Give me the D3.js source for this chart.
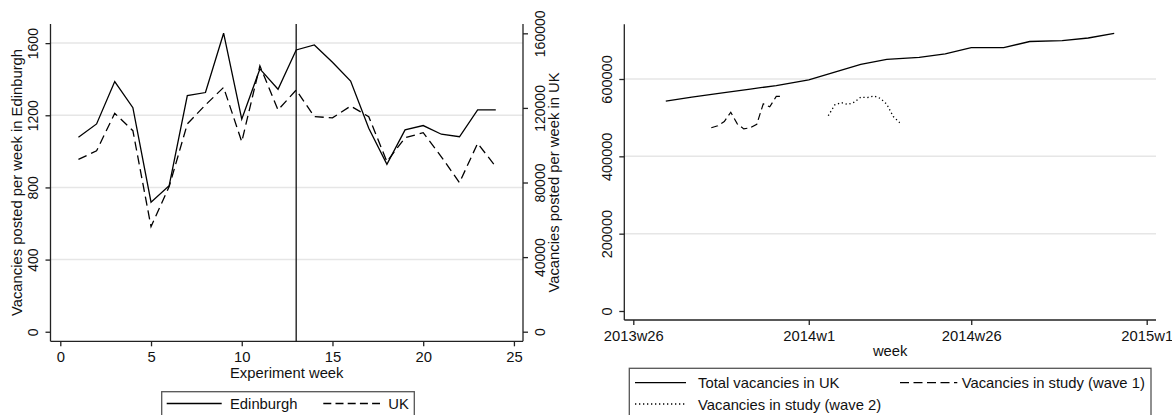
<!DOCTYPE html>
<html><head><meta charset="utf-8">
<script src="https://cdn.jsdelivr.net/npm/d3@7"></script>
<style>
body{margin:0;background:#fff;}
svg{display:block;font-family:"Liberation Sans",Arial,sans-serif;}
</style></head>
<body><svg id="c" width="1172" height="415"></svg>
<script>
// ---------- Left panel data ----------
const expWeeks = [1,2,3,4,5,6,7,8,9,10,11,12,13,14,15,16,17,18,19,20,21,22,23,24];
const edinburgh = [1078,1152,1387,1242,718,810,1309,1326,1655,1178,1457,1344,1562,1590,1494,1390,1128,928,1119,1143,1095,1081,1230,1230];
const ukWeekly = [92400,97000,117100,107800,56300,77800,111400,121600,131000,101900,142600,118900,129600,115300,114700,121000,115300,91200,104000,106700,93800,79900,101000,88500];
const leftXTicks = [0,5,10,15,20,25];
const leftYTicks = [0,400,800,1200,1600];
const rightYTicks = [0,40000,80000,120000,160000];
const treatmentWeek = 13;

// ---------- Right panel data ----------
const totalWeeks = ["2013w31","2013w35","2013w40","2013w44","2013w48","2014w1","2014w5","2014w9","2014w13","2014w18","2014w22","2014w26","2014w31","2014w35","2014w40","2014w44","2014w48"];
const totalVacancies = [543000,553000,565000,574000,583000,598000,618000,638000,651000,656000,665000,681000,681000,697000,699000,706000,718000];
const wave1Weeks = ["2013w38","2013w39","2013w40","2013w41","2013w42","2013w43","2013w44","2013w45","2013w46","2013w47","2013w48","2013w49"];
const wave1Vacancies = [474000,479000,490000,514000,484000,471000,474000,483000,536000,528000,555000,555000];
const wave2Weeks = ["2014w4","2014w5","2014w6","2014w7","2014w8","2014w9","2014w10","2014w11","2014w12","2014w13","2014w14","2014w15"];
const wave2Vacancies = [505000,533000,539000,534000,540000,553000,552000,556000,550000,535000,503000,487000];
const weekTicks = ["2013w26","2014w1","2014w26","2015w1"];
const rYTicks = [0,200000,400000,600000];

// Stata weekly index
const wk = s => { const [y,w] = s.split("w").map(Number); return (y-1960)*52 + (w-1); };

const svg = d3.select("#c");
const AX = "#222", GRID = "#e6e6e6";
const FT = 14.8;

function styleAxis(a){
  a.attr("font-family",null);
  a.selectAll("path,line").attr("stroke",AX).attr("stroke-width",1.3);
  a.selectAll("text").attr("fill","#111");
}

// ================= LEFT PANEL =================
const L = {x0:50.5, x1:523, y0:24, y1:341.3};
const lx = d3.scaleLinear().domain([-0.54,25.5]).range([L.x0,L.x1]);
const ly = d3.scaleLinear().domain([-53,1706]).range([L.y1,L.y0]);
const ry = d3.scaleLinear().domain([-5150,165000]).range([L.y1,L.y0]);

const gl = svg.append("g");
gl.selectAll("line.g").data(leftYTicks.filter(d=>d>0)).join("line")
  .attr("x1",L.x0).attr("x2",L.x1).attr("y1",d=>ly(d)).attr("y2",d=>ly(d))
  .attr("stroke",GRID).attr("stroke-width",1.5);

const axL = gl.append("g").attr("transform",`translate(${L.x0},0)`)
  .call(d3.axisLeft(ly).tickValues(leftYTicks).tickFormat(d3.format("d")).tickSize(5).tickSizeOuter(0));
axL.select(".domain").attr("d",`M0,${L.y0}V${L.y1}`);
axL.selectAll("text").attr("transform","rotate(-90,-13,0)")
  .attr("x",-13).attr("y",0).attr("dy",0).attr("text-anchor","middle").attr("font-size",14);
const axR = gl.append("g").attr("transform",`translate(${L.x1},0)`)
  .call(d3.axisRight(ry).tickValues(rightYTicks).tickFormat(d3.format("d")).tickSize(5).tickSizeOuter(0));
axR.select(".domain").attr("d",`M0,${L.y0}V${L.y1}`);
axR.selectAll("text").attr("transform","rotate(-90,21.5,0)")
  .attr("x",21.5).attr("y",0).attr("dy",0).attr("text-anchor","middle").attr("font-size",14);
const axB = gl.append("g").attr("transform",`translate(0,${L.y1})`)
  .call(d3.axisBottom(lx).tickValues(leftXTicks).tickSize(5).tickSizeOuter(0));
axB.select(".domain").attr("d",`M${L.x0},0H${L.x1}`);
axB.selectAll("text").attr("dy",0).attr("y",20.5).attr("font-size",FT);
[axL,axR,axB].forEach(styleAxis);

gl.append("line").attr("x1",lx(treatmentWeek)).attr("x2",lx(treatmentWeek))
  .attr("y1",L.y0).attr("y2",L.y1).attr("stroke","#111").attr("stroke-width",1.3);

gl.append("path").datum(expWeeks.map((w,i)=>[w,edinburgh[i]]))
  .attr("d",d3.line().x(d=>lx(d[0])).y(d=>ly(d[1])))
  .attr("fill","none").attr("stroke","#000").attr("stroke-width",1.3);
gl.append("path").datum(expWeeks.map((w,i)=>[w,ukWeekly[i]]))
  .attr("d",d3.line().x(d=>lx(d[0])).y(d=>ry(d[1])))
  .attr("fill","none").attr("stroke","#000").attr("stroke-width",1.3).attr("stroke-dasharray","9,5");

gl.append("text").attr("transform","translate(22,182.5) rotate(-90)").attr("text-anchor","middle")
  .attr("font-size",FT).attr("fill","#111").text("Vacancies posted per week in Edinburgh");
gl.append("text").attr("transform","translate(559,182.5) rotate(-90)").attr("text-anchor","middle")
  .attr("font-size",FT).attr("fill","#111").text("Vacancies posted per week in UK");
gl.append("text").attr("x",(L.x0+L.x1)/2).attr("y",377.5).attr("text-anchor","middle")
  .attr("font-size",FT).attr("fill","#111").text("Experiment week");

const lg = gl.append("g");
lg.append("rect").attr("x",161.7).attr("y",391.7).attr("width",252.6).attr("height",40)
  .attr("fill","#fff").attr("stroke","#555").attr("stroke-width",1.3);
lg.append("line").attr("x1",166.7).attr("x2",221.7).attr("y1",403.5).attr("y2",403.5).attr("stroke","#000").attr("stroke-width",1.3);
lg.append("text").attr("x",230).attr("y",409).attr("font-size",FT).attr("fill","#111").text("Edinburgh");
lg.append("line").attr("x1",323.3).attr("x2",380).attr("y1",403.5).attr("y2",403.5).attr("stroke","#000").attr("stroke-width",1.3).attr("stroke-dasharray","8,4.2");
lg.append("text").attr("x",388.3).attr("y",409).attr("font-size",FT).attr("fill","#111").text("UK");

// ================= RIGHT PANEL =================
const R = {x0:624.3, x1:1156, y0:24.3, y1:320};
const wx = d3.scaleLinear().domain([wk("2013w26"),wk("2015w1")]).range([633.3,1146.7]);
const vy = d3.scaleLinear().domain([0,600000]).range([311,79]);

const gr = svg.append("g");
gr.selectAll("line.g").data(rYTicks.filter(d=>d>0)).join("line")
  .attr("x1",R.x0).attr("x2",R.x1).attr("y1",d=>vy(d)).attr("y2",d=>vy(d))
  .attr("stroke",GRID).attr("stroke-width",1.5);

const raxL = gr.append("g").attr("transform",`translate(${R.x0},0)`)
  .call(d3.axisLeft(vy).tickValues(rYTicks).tickFormat(d3.format("d")).tickSize(5).tickSizeOuter(0));
raxL.select(".domain").attr("d",`M0,${R.y0}V${R.y1}`);
raxL.selectAll("text").attr("transform","rotate(-90,-12.5,0)")
  .attr("x",-12.5).attr("y",0).attr("dy",0).attr("text-anchor","middle").attr("font-size",14.5);
const raxB = gr.append("g").attr("transform",`translate(0,${R.y1})`)
  .call(d3.axisBottom(wx).tickValues(weekTicks.map(wk)).tickFormat((d,i)=>weekTicks[i]).tickSize(5).tickSizeOuter(0));
raxB.select(".domain").attr("d",`M${R.x0},0H${R.x1}`);
raxB.selectAll("text").attr("dy",0).attr("y",21).attr("font-size",FT);
[raxL,raxB].forEach(styleAxis);

const wline = d3.line().x(d=>wx(d[0])).y(d=>vy(d[1]));
gr.append("path").datum(totalWeeks.map((w,i)=>[wk(w),totalVacancies[i]]))
  .attr("d",wline).attr("fill","none").attr("stroke","#000").attr("stroke-width",1.3);
gr.append("path").datum(wave1Weeks.map((w,i)=>[wk(w),wave1Vacancies[i]]))
  .attr("d",wline).attr("fill","none").attr("stroke","#000").attr("stroke-width",1.2).attr("stroke-dasharray","7,4");
gr.append("path").datum(wave2Weeks.map((w,i)=>[wk(w),wave2Vacancies[i]]))
  .attr("d",wline).attr("fill","none").attr("stroke","#000").attr("stroke-width",1.3).attr("stroke-dasharray","1.3,2.7");

gr.append("text").attr("x",(R.x0+R.x1)/2).attr("y",356).attr("text-anchor","middle")
  .attr("font-size",FT).attr("fill","#111").text("week");

const rl = gr.append("g");
rl.append("rect").attr("x",629.3).attr("y",368.3).attr("width",521.7).attr("height",60)
  .attr("fill","#fff").attr("stroke","#555").attr("stroke-width",1.3);
rl.append("line").attr("x1",635).attr("x2",686).attr("y1",382.7).attr("y2",382.7).attr("stroke","#000").attr("stroke-width",1.3);
rl.append("text").attr("x",698).attr("y",388).attr("font-size",FT).attr("fill","#111").text("Total vacancies in UK");
rl.append("line").attr("x1",900).attr("x2",957.3).attr("y1",382.7).attr("y2",382.7).attr("stroke","#000").attr("stroke-width",1.3).attr("stroke-dasharray","9,4.5");
rl.append("text").attr("x",961.7).attr("y",388).attr("font-size",FT).attr("fill","#111").text("Vacancies in study (wave 1)");
rl.append("line").attr("x1",635).attr("x2",686).attr("y1",404).attr("y2",404).attr("stroke","#000").attr("stroke-width",1.3).attr("stroke-dasharray","1.3,2.7");
rl.append("text").attr("x",698).attr("y",409.5).attr("font-size",FT).attr("fill","#111").text("Vacancies in study (wave 2)");
</script></body></html>
